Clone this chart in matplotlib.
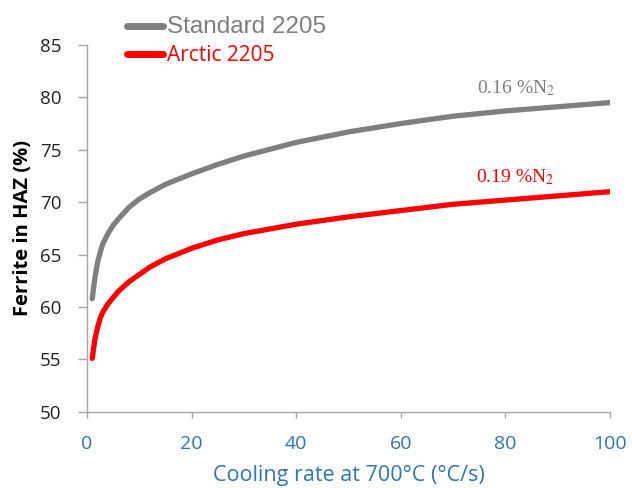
import matplotlib
matplotlib.use('Agg')
from matplotlib import pyplot as plt

# cooling rate (degC/s) and ferrite content (%)
rate = [1, 1.5, 2, 2.5, 3, 4, 5, 6, 8, 10, 12, 15, 20, 25, 30, 40, 50, 60, 70, 80, 90, 100]
standard = [60.8, 62.8, 64.2, 65.2, 66.0, 67.0, 67.8, 68.4, 69.5, 70.3, 70.9, 71.7,
            72.7, 73.6, 74.4, 75.7, 76.7, 77.5, 78.2, 78.7, 79.1, 79.5]
arctic = [55.1, 56.9, 58.0, 58.9, 59.5, 60.3, 60.9, 61.5, 62.4, 63.1, 63.8, 64.6,
          65.6, 66.4, 67.0, 67.9, 68.6, 69.2, 69.8, 70.2, 70.6, 71.0]
xticks = [0, 20, 40, 60, 80, 100]
yticks = [50, 55, 60, 65, 70, 75, 80, 85]

plt.rcParams['font.family'] = ['Open Sans', 'DejaVu Sans']
plt.rcParams['mathtext.fontset'] = 'stix'

gray = '#7f7f7f'
red = '#ff0000'
blue = '#2e75b6'

fig = plt.figure(dpi=100, figsize=(6.32, 4.88))
ax = fig.add_axes([0.1377, 0.156, 0.8275, 0.752])

l1, = ax.plot(rate, standard, c=gray, lw=3.8, solid_capstyle='round', label='Standard 2205')
l2, = ax.plot(rate, arctic, c=red, lw=3.8, solid_capstyle='round', label='Arctic 2205')

ax.set_xlim(0, 100)
ax.set_ylim(50, 85)
ax.set_xticks(xticks)
ax.set_yticks(yticks)
for s in ['top', 'right']:
    ax.spines[s].set_visible(False)
for s in ['left', 'bottom']:
    ax.spines[s].set_color('#a6a6a6')
    ax.spines[s].set_linewidth(1.0)
ax.tick_params(axis='y', color='#a6a6a6', length=6.5, width=1.0, pad=12,
               labelsize=13.5, labelcolor='#222222')
ax.tick_params(axis='x', color='#a6a6a6', length=4, width=1.0, pad=13,
               labelsize=14, labelcolor=blue)

ax.set_xlabel('Cooling rate at 700°C (°C/s)', fontsize=15.5, color=blue, labelpad=8)
ax.set_ylabel('Ferrite in HAZ (%)', fontsize=14.5, fontweight='bold', labelpad=5)

ax.text(74.5, 80.4, r'0.16 %N$_2$', color=gray, fontsize=14, family='Liberation Serif')
ax.text(74.3, 71.9, r'0.19 %N$_2$', color=red, fontsize=14, family='Liberation Serif')

leg = fig.legend(handles=[l1, l2], loc='upper left', bbox_to_anchor=(0.2010, 0.967),
                 frameon=False, prop={'size': 15}, handlelength=1.75, handletextpad=0.15,
                 labelspacing=0.35, borderaxespad=0, borderpad=0)
for h in leg.legend_handles:
    h.set_linewidth(5)
txts = leg.get_texts()
txts[0].set_color(gray)
txts[0].set_fontsize(17.5)
txts[0].set_family('Liberation Sans')
txts[1].set_color(red)
txts[1].set_fontsize(15)

fig.savefig('out.png', dpi=100)
